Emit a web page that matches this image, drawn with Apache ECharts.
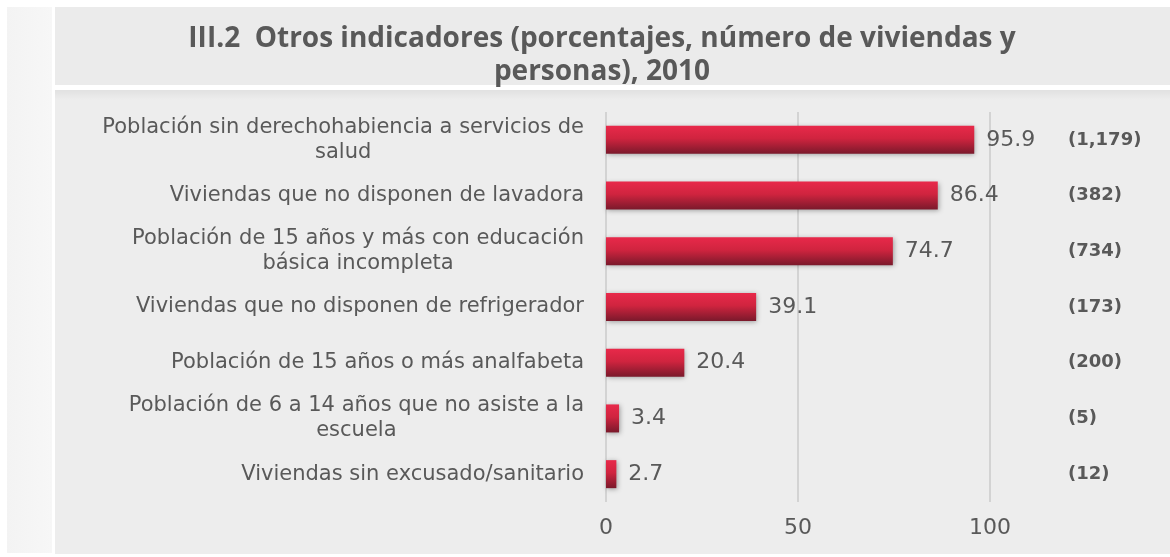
<!DOCTYPE html>
<html>
<head>
<meta charset="utf-8">
<script src="https://cdn.jsdelivr.net/npm/echarts@6/dist/echarts.min.js"></script>
<style>html,body{margin:0;padding:0;background:#fff}#c{width:1170px;height:557px}</style>
</head>
<body>
<div id="c"></div>
<script>
var titleText = 'III.2  Otros indicadores (porcentajes, número de viviendas y\npersonas), 2010';
var categories = [
  'Población sin derechohabiencia a servicios de\nsalud',
  'Viviendas que no disponen de lavadora',
  'Población de 15 años y más con educación\nbásica incompleta',
  'Viviendas que no disponen de refrigerador',
  'Población de 15 años o más analfabeta',
  'Población de 6 a 14 años que no asiste a la\nescuela',
  'Viviendas sin excusado/sanitario'
];
var percentages = [95.9, 86.4, 74.7, 39.1, 20.4, 3.4, 2.7];
var counts = ['(1,179)', '(382)', '(734)', '(173)', '(200)', '(5)', '(12)'];
var xTicks = [0, 50, 100];

var chart = echarts.init(document.getElementById('c'), null, {renderer: 'canvas'});
var grey = '#595959';
chart.setOption({
  backgroundColor: '#ffffff',
  animation: false,
  graphic: [
    {type: 'rect', z: -10, shape: {x: 7, y: 7, width: 45, height: 546},
     style: {fill: new echarts.graphic.LinearGradient(0, 0, 1, 0, [{offset: 0, color: '#f3f3f3'}, {offset: 1, color: '#f7f7f7'}])}},
    {type: 'rect', z: -10, shape: {x: 55, y: 7, width: 1115, height: 78}, style: {fill: '#ebebeb'}},
    {type: 'rect', z: -10, shape: {x: 55, y: 90, width: 1115, height: 464}, style: {fill: '#ededed'}},
    {type: 'rect', z: -9, shape: {x: 55, y: 90, width: 1115, height: 10},
     style: {fill: new echarts.graphic.LinearGradient(0, 0, 0, 1, [{offset: 0, color: 'rgba(0,0,0,0.05)'}, {offset: 1, color: 'rgba(0,0,0,0)'}])}}
  ],
  title: {
    text: titleText,
    left: 597, top: 18, textAlign: 'center',
    textStyle: {fontFamily: 'Open Sans', fontWeight: 'bold', fontSize: 28, lineHeight: 33, color: grey}
  },
  grid: {left: 606, right: 180, top: 112, bottom: 55, containLabel: false},
  xAxis: {
    type: 'value', min: 0, max: 100, interval: 50,
    axisLine: {show: false}, axisTick: {show: false},
    splitLine: {show: true, lineStyle: {color: '#d3d3d3', width: 2}},
    axisLabel: {margin: 15, fontFamily: 'DejaVu Sans', fontSize: 22, color: grey,
      formatter: function (v) { return xTicks.indexOf(v) >= 0 ? String(v) : ''; }}
  },
  yAxis: [
    {
      type: 'category', data: categories, inverse: true,
      axisLine: {show: false}, axisTick: {show: false}, splitLine: {show: false},
      axisLabel: {
        margin: 22, align: 'right', fontFamily: 'DejaVu Sans', fontSize: 21, lineHeight: 25, color: grey,
        formatter: function (v) { return v.split('\n').map(function (l) { return '{c|' + l + '}'; }).join('\n'); },
        rich: {c: {align: 'center', fontFamily: 'DejaVu Sans', fontSize: 21, lineHeight: 25, color: grey}}
      }
    },
    {
      type: 'category', data: counts, inverse: true, position: 'right',
      axisLine: {show: false}, axisTick: {show: false}, splitLine: {show: false},
      axisLabel: {margin: 78, align: 'left', fontFamily: 'DejaVu Sans', fontWeight: 'bold', fontSize: 18, color: grey}
    }
  ],
  series: [{
    type: 'bar', yAxisIndex: 0, data: percentages, barWidth: 28,
    itemStyle: {
      color: new echarts.graphic.LinearGradient(0, 0, 0, 1, [
        {offset: 0, color: '#e8294a'}, {offset: 0.45, color: '#d0243f'}, {offset: 1, color: '#7a192b'}]),
      shadowBlur: 5, shadowColor: 'rgba(0,0,0,0.35)', shadowOffsetX: 1, shadowOffsetY: 1
    },
    label: {show: true, position: 'right', distance: 12, fontFamily: 'DejaVu Sans', fontSize: 22, color: grey,
      formatter: function (p) { return p.value.toFixed(1); }}
  }]
});
</script>
</body>
</html>
